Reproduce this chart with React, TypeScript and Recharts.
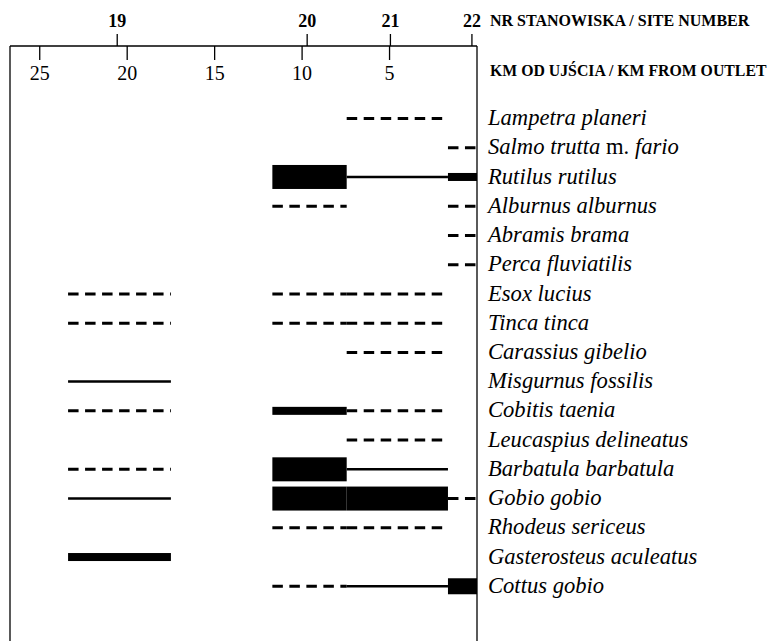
import React from 'react';
import { ComposedChart, Bar, XAxis, YAxis, ReferenceLine } from 'recharts';

const species = [
    'Lampetra planeri',
    'Salmo trutta m. fario',
    'Rutilus rutilus',
    'Alburnus alburnus',
    'Abramis brama',
    'Perca fluviatilis',
    'Esox lucius',
    'Tinca tinca',
    'Carassius gibelio',
    'Misgurnus fossilis',
    'Cobitis taenia',
    'Leucaspius delineatus',
    'Barbatula barbatula',
    'Gobio gobio',
    'Rhodeus sericeus',
    'Gasterosteus aculeatus',
    'Cottus gobio',
];

const siteNames = ['19', '20', '21', '22'];
const siteKm = [20.57, 9.71, 4.95, 0.29];
const kmTicks = [25, 20, 15, 10, 5];

// river stretch (km from outlet) represented by each site
const siteFrom = [23.38, 11.7, 7.45, 1.66];
const siteTo = [17.5, 7.45, 1.66, 0];

// 0 absent, 1 dashed, 2 thin line, 3-5 bars of growing thickness
const site19 = [0, 0, 0, 0, 0, 0, 1, 1, 0, 2, 1, 0, 1, 2, 0, 3, 0];
const site20 = [0, 0, 5, 1, 0, 0, 1, 1, 0, 0, 3, 0, 5, 5, 1, 0, 1];
const site21 = [1, 0, 2, 0, 0, 0, 1, 1, 1, 0, 1, 1, 2, 5, 1, 0, 2];
const site22 = [0, 1, 3, 1, 1, 1, 0, 0, 0, 0, 0, 0, 0, 1, 0, 0, 4];
const siteLevels = [site19, site20, site21, site22];

const rows = species.map((name, i) => ({
    name,
    levels: siteLevels.map((l) => l[i]),
}));

const FONT = '"Liberation Serif", "Times New Roman", serif';
const KM_MAX = 26.7;

const Segment = (props: any) => {
    const { x, y, width, height, level } = props;
    if (!level) return <g />;
    const x1 = Math.min(x, x + width);
    const x2 = Math.max(x, x + width);
    const cy = y + height / 2;
    if (level === 1) {
        return <line x1={x1} x2={x2} y1={cy} y2={cy} stroke="#000" strokeWidth={3} strokeDasharray="10.5 6.5" />;
    }
    if (level === 2) {
        return <line x1={x1} x2={x2} y1={cy} y2={cy} stroke="#000" strokeWidth={2.5} />;
    }
    const h = level === 3 ? 8 : level === 4 ? 16 : 24;
    return <rect x={x1} y={cy - h / 2} width={x2 - x1} height={h} fill="#000" />;
};

const TopTick = (props: any) => {
    const { x, y, payload } = props;
    const si = siteKm.indexOf(payload.value);
    if (si >= 0) {
        return (
            <g>
                <line x1={x} x2={x} y1={y} y2={y - 12} stroke="#000" strokeWidth={1.3} />
                <text x={x} y={y - 19.5} textAnchor="middle" fontFamily={FONT} fontWeight="bold" fontSize={18} fill="#000">
                    {siteNames[si]}
                </text>
            </g>
        );
    }
    return (
        <g>
            <line x1={x} x2={x} y1={y} y2={y + 14} stroke="#000" strokeWidth={1.3} />
            <text x={x} y={y + 34} textAnchor="middle" fontFamily={FONT} fontSize={20} fill="#000">
                {payload.value}
            </text>
        </g>
    );
};

const SpeciesTick = (props: any) => {
    const { x, y, payload } = props;
    const name: string = payload.value;
    const parts = name.split(' m. ');
    return (
        <text x={x + 11} y={y + 6.5} fontFamily={FONT} fontSize={22.6} fontStyle="italic" fill="#000">
            {parts.length > 1 ? (
                <>
                    <tspan>{parts[0]} </tspan>
                    <tspan fontStyle="normal">m.</tspan>
                    <tspan> {parts[1]}</tspan>
                </>
            ) : (
                name
            )}
        </text>
    );
};

const headerStyle: React.CSSProperties = {
    position: 'absolute',
    left: 490,
    fontFamily: FONT,
    fontWeight: 'bold',
    fontSize: 16,
    lineHeight: '16px',
    whiteSpace: 'nowrap',
    color: '#000',
};

export default function App() {
    return (
        <div style={{ position: 'relative', width: 773, height: 641, overflow: 'hidden' }}>
            <style>{'body { margin: 0; }'}</style>
            <ComposedChart
                width={773}
                height={641}
                data={rows}
                layout="vertical"
                barSize={27}
                barGap={-27}
                margin={{ top: 8, right: 0, bottom: 0, left: 10 }}
            >
                <XAxis
                    type="number"
                    orientation="top"
                    domain={[0, KM_MAX]}
                    allowDataOverflow
                    reversed
                    height={38}
                    ticks={[...kmTicks, ...siteKm]}
                    interval={0}
                    tickSize={0}
                    tickMargin={0}
                    tickLine={false}
                    tick={<TopTick />}
                    axisLine={{ stroke: '#000', strokeWidth: 1.3 }}
                />
                <YAxis
                    type="category"
                    dataKey="name"
                    orientation="right"
                    width={296}
                    interval={0}
                    padding={{ top: 58, bottom: 40 }}
                    tickSize={0}
                    tickMargin={0}
                    tickLine={false}
                    tick={<SpeciesTick />}
                    axisLine={{ stroke: '#000', strokeWidth: 1.3 }}
                />
                <ReferenceLine x={KM_MAX} stroke="#000" strokeWidth={1.3} />
                {siteNames.map((s, i) => (
                    <Bar
                        key={s}
                        dataKey={() => [siteFrom[i], siteTo[i]]}
                        isAnimationActive={false}
                        shape={(p: any) => <Segment {...p} level={p.payload?.levels?.[i]} />}
                    />
                ))}
            </ComposedChart>
            <div style={{ ...headerStyle, top: 13 }}>NR STANOWISKA / SITE NUMBER</div>
            <div style={{ ...headerStyle, top: 63, fontSize: 15.8 }}>KM OD UJŚCIA / KM FROM OUTLET</div>
        </div>
    );
}
